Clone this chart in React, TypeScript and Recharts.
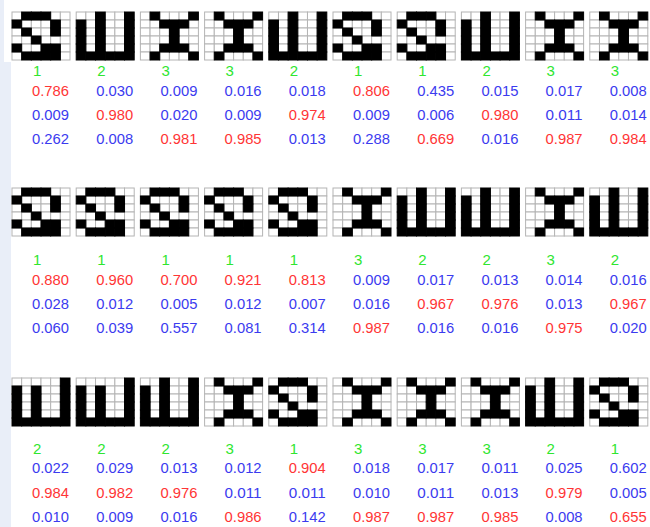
import { Scatter, ScatterChart, XAxis, YAxis } from "recharts";

const WIDTH = 650;
const HEIGHT = 527;

// class shown under each glyph (green)
const row1Labels = [1, 2, 3, 3, 2, 1, 1, 2, 3, 3];
const row2Labels = [1, 1, 1, 1, 1, 3, 2, 2, 3, 2];
const row3Labels = [2, 2, 2, 3, 1, 3, 3, 3, 2, 1];

// network outputs for class 1, 2, 3
const row1P1 = [0.786, 0.03, 0.009, 0.016, 0.018, 0.806, 0.435, 0.015, 0.017, 0.008];
const row1P2 = [0.009, 0.98, 0.02, 0.009, 0.974, 0.009, 0.006, 0.98, 0.011, 0.014];
const row1P3 = [0.262, 0.008, 0.981, 0.985, 0.013, 0.288, 0.669, 0.016, 0.987, 0.984];

const row2P1 = [0.88, 0.96, 0.7, 0.921, 0.813, 0.009, 0.017, 0.013, 0.014, 0.016];
const row2P2 = [0.028, 0.012, 0.005, 0.012, 0.007, 0.016, 0.967, 0.976, 0.013, 0.967];
const row2P3 = [0.06, 0.039, 0.557, 0.081, 0.314, 0.987, 0.016, 0.016, 0.975, 0.02];

const row3P1 = [0.022, 0.029, 0.013, 0.012, 0.904, 0.018, 0.017, 0.011, 0.025, 0.602];
const row3P2 = [0.984, 0.982, 0.976, 0.011, 0.011, 0.01, 0.011, 0.013, 0.979, 0.005];
const row3P3 = [0.01, 0.009, 0.016, 0.986, 0.142, 0.987, 0.987, 0.985, 0.008, 0.655];

// 6x6 glyphs, rows top to bottom, 1 = black
const zShape = "011100 100010 010010 001000 100110 011110";
const uShape = "001001 101001 101001 101001 101001 111111";
const uOpenTop = "000001 101001 101001 101001 101001 111111";
const iShape = "010001 001110 000100 000100 001110 010001";

const row1Glyphs = [zShape, uShape, iShape, iShape, uShape, zShape, zShape, uShape, iShape, iShape];
const row2Glyphs = [zShape, zShape, zShape, zShape, zShape, iShape, uShape, uShape, iShape, uShape];
const row3Glyphs = [uOpenTop, uOpenTop, uShape, iShape, zShape, iShape, iShape, iShape, uShape, zShape];

const rows = [
  { labels: row1Labels, probs: [row1P1, row1P2, row1P3], glyphs: row1Glyphs, top: 12, textY: [70, 91, 115, 139] },
  { labels: row2Labels, probs: [row2P1, row2P2, row2P3], glyphs: row2Glyphs, top: 188, textY: [259, 280, 304, 328] },
  { labels: row3Labels, probs: [row3P1, row3P2, row3P3], glyphs: row3Glyphs, top: 378, textY: [448, 468, 493, 517] },
];

const X0 = 12;
const PITCH = 64.2;
const CELL_W = 58 / 6;
const CELL_H = 8;
const TEXT_DX = 21;

const whiteCells: { x: number; y: number }[] = [];
const blackCells: { x: number; y: number }[] = [];
const texts: { x: number; y: number; text: string; color: string; size: number; len: number }[] = [];

rows.forEach((row) => {
  row.glyphs.forEach((glyph, g) => {
    const gx = X0 + g * PITCH;
    glyph.split(" ").forEach((line, r) => {
      line.split("").forEach((bit, c) => {
        const point = { x: gx + (c + 0.5) * CELL_W, y: row.top + (r + 0.5) * CELL_H };
        (bit === "1" ? blackCells : whiteCells).push(point);
      });
    });
    texts.push({ x: gx + TEXT_DX, y: row.textY[0], text: String(row.labels[g]), color: "#2fe62f", size: 15, len: 0 });
    const values = row.probs.map((p) => p[g]);
    const best = Math.max(...values);
    values.forEach((v, k) => {
      texts.push({
        x: gx + TEXT_DX - 1,
        y: row.textY[k + 1],
        text: v.toFixed(3),
        color: v === best ? "#ff3535" : "#3b3bef",
        size: 14,
        len: 37,
      });
    });
  });
});

const CellShape = (props: any) => {
  const { cx, cy, fill } = props;
  return (
    <rect
      x={cx - CELL_W / 2}
      y={cy - CELL_H / 2}
      width={CELL_W}
      height={CELL_H}
      fill={fill}
      stroke={fill === "#000" ? "#000" : "#b4b4b4"}
      strokeWidth={1}
    />
  );
};

const TextShape = (props: any) => {
  const { cx, cy, payload } = props;
  return (
    <text
      x={cx}
      y={cy}
      dominantBaseline="central"
      fill={payload.color}
      fontSize={payload.size}
      fontFamily="'Liberation Sans', Arial, sans-serif"
      {...(payload.len ? { textLength: payload.len, lengthAdjust: "spacingAndGlyphs" } : {})}
    >
      {payload.text}
    </text>
  );
};

export default function App() {
  return (
    <div style={{ position: "absolute", left: 0, top: 0, width: WIDTH, height: HEIGHT, background: "#fff", overflow: "hidden" }}>
      <div style={{ position: "absolute", left: 0, top: 0, width: 4, height: 62, background: "#e9eef8" }} />
      <div style={{ position: "absolute", left: 0, top: 62, width: 11, height: HEIGHT - 62, background: "#e9eef8" }} />
      <ScatterChart width={WIDTH} height={HEIGHT} margin={{ top: 0, right: 0, bottom: 0, left: 0 }}>
        <XAxis type="number" dataKey="x" domain={[0, WIDTH]} hide allowDataOverflow />
        <YAxis type="number" dataKey="y" domain={[0, HEIGHT]} reversed hide allowDataOverflow />
        <Scatter data={whiteCells} fill="#fff" shape={CellShape} isAnimationActive={false} />
        <Scatter data={blackCells} fill="#000" shape={CellShape} isAnimationActive={false} />
        <Scatter data={texts} fill="#000" shape={TextShape} isAnimationActive={false} />
      </ScatterChart>
    </div>
  );
}
